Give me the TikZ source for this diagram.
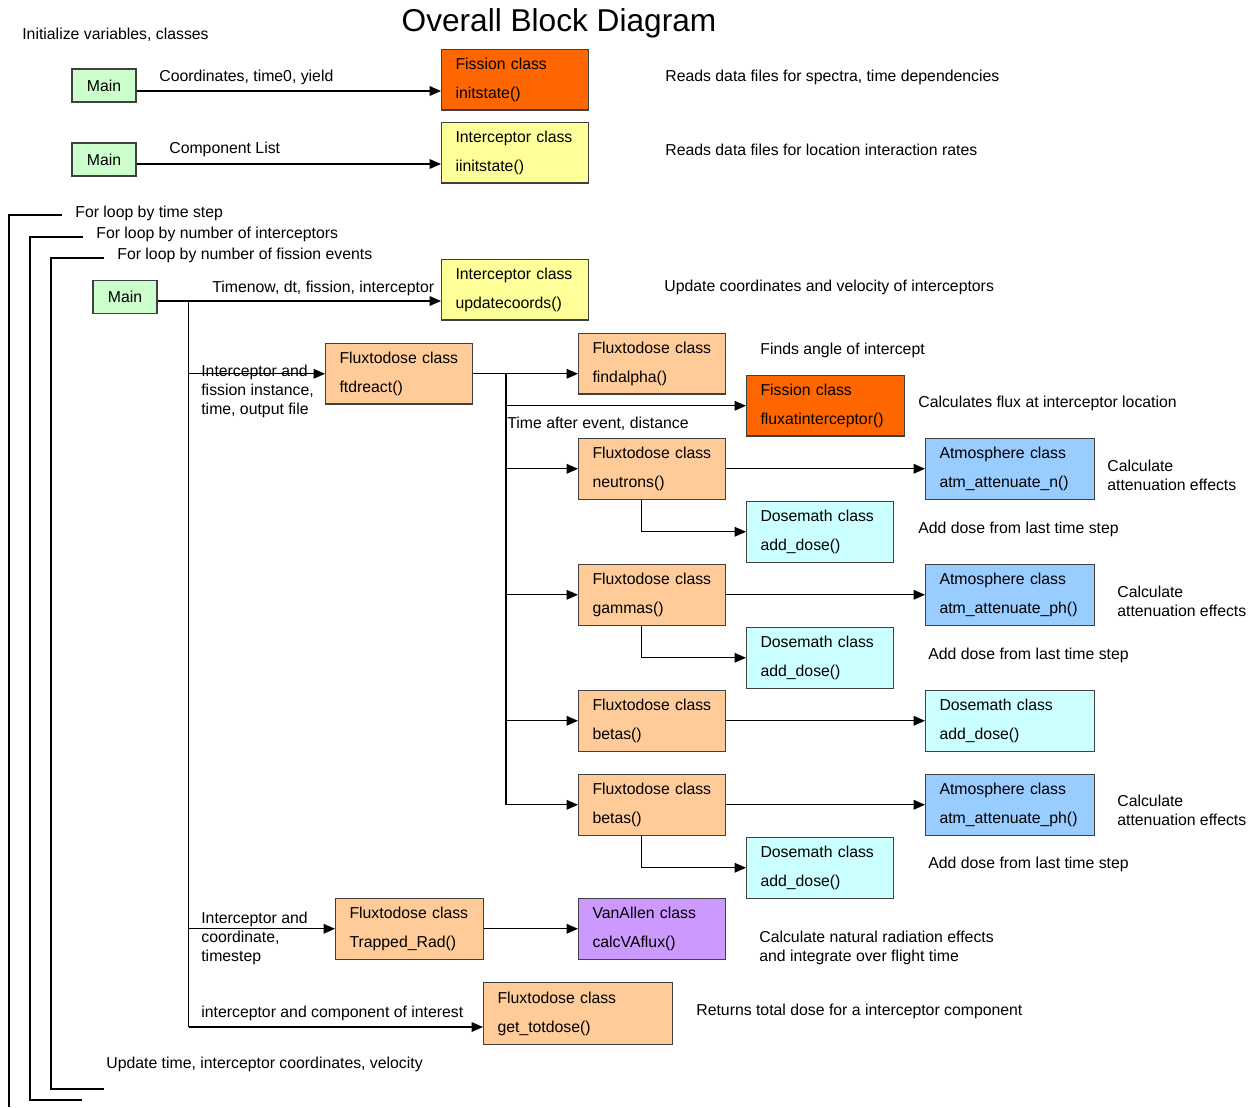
\documentclass[tikz,border=0pt]{standalone}
\usepackage{fontspec}
\setmainfont{Liberation Sans}
\usepackage{xcolor}
\usepackage{tikz}
\usetikzlibrary{arrows.meta,positioning}

\definecolor{maingreen}{HTML}{CCFFCC}
\definecolor{fissorange}{HTML}{FF6600}
\definecolor{intyellow}{HTML}{FFFF99}
\definecolor{fluxtan}{HTML}{FFCC99}
\definecolor{atmblue}{HTML}{99CCFF}
\definecolor{dosecyan}{HTML}{CCFFFF}
\definecolor{vapurple}{HTML}{CC99FF}

\newcommand{\boxfont}{\fontsize{9}{16.4}\selectfont}
\newcommand{\notefont}{\fontsize{9}{10.8}\selectfont}

\begin{document}
\begin{tikzpicture}[x=0.02cm, y=-0.02cm,
	cls/.style 2 args={draw=black!75, semithick, fill=#1, anchor=north west, text width=#2,
		minimum height=1.21cm, inner xsep=0.28cm, inner ysep=0pt, align=left, font=\boxfont},
	mainbox/.style={draw=black!75, semithick, fill=maingreen, minimum width=1.28cm,
		minimum height=0.66cm, inner sep=0pt, font=\notefont},
	note/.style={anchor=west, inner sep=0pt, align=left, font=\notefont, yshift=-0.04cm},
	arr/.style={line width=0.7pt, -{Triangle[length=6.5pt,width=5.5pt]}},
	wire/.style={line width=0.7pt}]
				\useasboundingbox (0,0) rectangle (1259,1107);
				
				%Title
				\node[font=\fontsize{18}{20}\selectfont, inner sep=0pt] (title) at (559,23) {Overall Block Diagram};
				\node[note] (init) at (22,33) {Initialize variables, classes};
				
				%Initialisation
				\node[mainbox] (main1) at (104,85.5) {Main};
				\node[cls={fissorange}{2.38cm}] (fis1) at (441,49) {Fission class\\initstate()};
				\coordinate (m1out) at ([yshift=-0.11cm]main1.east);
				\draw[arr] (m1out) -- (m1out -| fis1.west);
				\node[note] at (159,75) {Coordinates, time0, yield};
				\node[note] at (665,75) {Reads data files for spectra, time dependencies};
				
				\node[mainbox] (main2) at (104,159.5) {Main};
				\node[cls={intyellow}{2.38cm}] (int1) at (441,122) {Interceptor class\\iinitstate()};
				\coordinate (m2out) at ([yshift=-0.09cm]main2.east);
				\draw[arr] (m2out) -- (m2out -| int1.west);
				\node[note] at (169,147) {Component List};
				\node[note] at (665,148) {Reads data files for location interaction rates};
				
				%Loops
				\node[note] (loopt) at (75,211) {For loop by time step};
				\node[note] (loopi) at (96,232) {For loop by number of interceptors};
				\node[note] (loopf) at (117,253) {For loop by number of fission events};
				\draw[wire] (62,215) -- (9,215) -- (9,1107);
				\draw[wire] (83,237) -- (30,237) -- (30,1100) -- (82,1100);
				\draw[wire] (104,258) -- (51,258) -- (51,1089) -- (104,1089);
				\node[note] (upd) at (106,1062) {Update time, interceptor coordinates, velocity};
				
				%Update coordinates
				\node[mainbox] (main3) at (125,297) {Main};
				\node[cls={intyellow}{2.38cm}] (int2) at (441,259) {Interceptor class\\updatecoords()};
				\coordinate (m3out) at ([yshift=-0.08cm]main3.east);
				\draw[arr] (m3out) -- (m3out -| int2.west);
				\node[note] at (212,286) {Timenow, dt, fission, interceptor};
				\node[note] at (664,285) {Update coordinates and velocity of interceptors};
				\coordinate (tk) at ([xshift=0.62cm]m3out);
				
				%Flux to dose
				\node[cls={fluxtan}{2.38cm}] (ftd) at (325,343) {Fluxtodose class\\ftdreact()};
				\draw[arr] (tk |- ftd.west) -- (ftd.west);
				\node[note] at (201,389) {Interceptor and\\fission instance,\\time, output file};
				
				\node[cls={fluxtan}{2.38cm}] (alpha) at (578,333) {Fluxtodose class\\findalpha()};
				\draw[arr] (ftd.east) -- (ftd.east -| alpha.west);
				\node[note] at (760,348) {Finds angle of intercept};
				\coordinate (bus) at ([xshift=0.66cm]ftd.east);
				
				\node[cls={fissorange}{2.6cm}] (flux) at (746,375) {Fission class\\fluxatinterceptor()};
				\draw[arr] (bus |- flux.west) -- (flux.west);
				\node[note] at (507,422) {Time after event, distance};
				\node[note] at (918,401) {Calculates flux at interceptor location};
				
				%Neutrons
				\node[cls={fluxtan}{2.38cm}] (neut) at (578,438) {Fluxtodose class\\neutrons()};
				\node[cls={atmblue}{2.82cm}] (atmn) at (925,438) {Atmosphere class\\atm\_attenuate\_n()};
				\node[cls={dosecyan}{2.38cm}] (dose1) at (746,501) {Dosemath class\\add\_dose()};
				\draw[arr] (bus |- neut.west) -- (neut.west);
				\draw[arr] (neut.east) -- (atmn.west);
				\draw[arr] ([xshift=-0.21cm]neut.south) |- (dose1.west);
				\node[note] at (1107,473.5) {Calculate\\attenuation effects};
				\node[note] at (918,527) {Add dose from last time step};
				
				%Gammas
				\node[cls={fluxtan}{2.38cm}] (gam) at (578,564) {Fluxtodose class\\gammas()};
				\node[cls={atmblue}{2.82cm}] (atmp1) at (925,564) {Atmosphere class\\atm\_attenuate\_ph()};
				\node[cls={dosecyan}{2.38cm}] (dose2) at (746,627) {Dosemath class\\add\_dose()};
				\draw[arr] (bus |- gam.west) -- (gam.west);
				\draw[arr] (gam.east) -- (atmp1.west);
				\draw[arr] ([xshift=-0.21cm]gam.south) |- (dose2.west);
				\node[note] at (1117,599.5) {Calculate\\attenuation effects};
				\node[note] at (928,653) {Add dose from last time step};
				
				%Betas
				\node[cls={fluxtan}{2.38cm}] (bet1) at (578,690) {Fluxtodose class\\betas()};
				\node[cls={dosecyan}{2.82cm}] (dose3) at (925,690) {Dosemath class\\add\_dose()};
				\draw[arr] (bus |- bet1.west) -- (bet1.west);
				\draw[arr] (bet1.east) -- (dose3.west);
				
				\node[cls={fluxtan}{2.38cm}] (bet2) at (578,774) {Fluxtodose class\\betas()};
				\node[cls={atmblue}{2.82cm}] (atmp2) at (925,774) {Atmosphere class\\atm\_attenuate\_ph()};
				\node[cls={dosecyan}{2.38cm}] (dose4) at (746,837) {Dosemath class\\add\_dose()};
				\draw[arr] (bus |- bet2.west) -- (bet2.west);
				\draw[arr] (bet2.east) -- (atmp2.west);
				\draw[arr] ([xshift=-0.21cm]bet2.south) |- (dose4.west);
				\node[note] at (1117,808.5) {Calculate\\attenuation effects};
				\node[note] at (928,862) {Add dose from last time step};
				\draw[wire] (bus) -- (bus |- bet2.west);
				
				%Trapped radiation
				\node[cls={fluxtan}{2.4cm}] (trap) at (335,898) {Fluxtodose class\\Trapped\_Rad()};
				\node[cls={vapurple}{2.38cm}] (va) at (578,898) {VanAllen class\\calcVAflux()};
				\draw[arr] (tk |- trap.west) -- (trap.west);
				\draw[arr] (trap.east) -- (va.west);
				\node[note] at (201,936) {Interceptor and\\coordinate,\\timestep};
				\node[note] at (759,945.5) {Calculate natural radiation effects\\and integrate over flight time};
				
				%Total dose
				\node[cls={fluxtan}{3.22cm}, minimum height=1.24cm] (tot) at (483,982) {Fluxtodose class\\get\_totdose()};
				\coordinate (tkend) at (tk |- 0,1027);
				\draw[wire] (tk) -- (tkend);
				\draw[arr] (tkend) -- (tkend -| tot.west);
				\node[note] at (201,1011) {interceptor and component of interest};
				\node[note] at (696,1009) {Returns total dose for a interceptor component};
			\end{tikzpicture}
\end{document}
